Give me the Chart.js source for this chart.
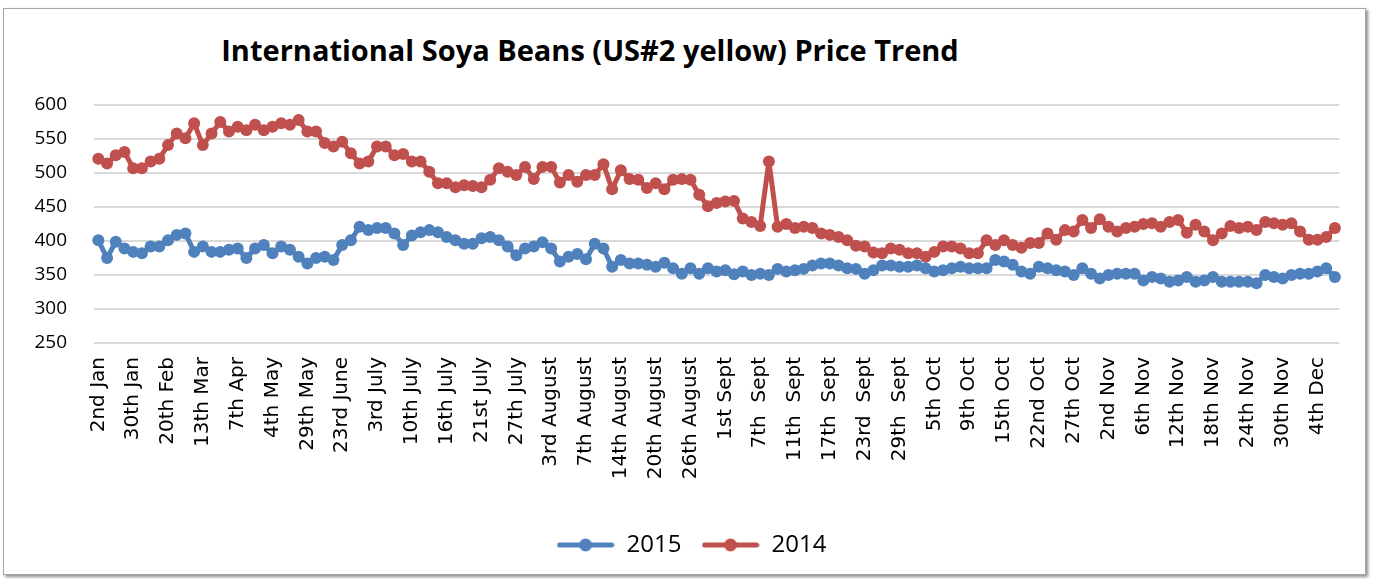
<!DOCTYPE html>
<html>
<head>
<meta charset="utf-8">
<title>International Soya Beans Price Trend</title>
<script src="https://cdn.jsdelivr.net/npm/chart.js@4.4.1/dist/chart.umd.min.js"></script>
<style>
  html, body { margin: 0; padding: 0; background: #fff; }
  body { width: 1373px; height: 579px; position: relative; overflow: hidden; }
  #frame {
    position: absolute; left: 3px; top: 8px; width: 1361px; height: 565px;
    border: 1px solid #a6a6a6; box-shadow: 2px 2px 3px rgba(0, 0, 0, 0.45); background: #fff;
  }
  #title {
    position: absolute; left: 0; top: 31px; width: 1180px; text-align: center;
    font: bold 29px "Open Sans", sans-serif; line-height: 38px; color: #000;
  }
  #chart { position: absolute; left: 0; top: 0; }
</style>
</head>
<body>
<div id="frame"></div>
<div id="title">International Soya Beans (US#2 yellow) Price Trend</div>
<canvas id="chart" width="1373" height="579"></canvas>
<script>
// tick labels shown on the category axis (every 4th week)
const tickLabels = [
  "2nd Jan", "30th Jan", "20th Feb", "13th Mar", "7th Apr", "4th May", "29th May",
  "23rd June", "3rd July", "10th July", "16th July", "21st July", "27th July",
  "3rd August", "7th August", "14th August", "20th August", "26th August",
  "1st Sept", "7th  Sept", "11th  Sept", "17th  Sept", "23rd  Sept", "29th  Sept",
  "5th Oct", "9th Oct", "15th Oct", "22nd Oct", "27th Oct",
  "2nd Nov", "6th Nov", "12th Nov", "18th Nov", "24th Nov", "30th Nov", "4th Dec"
];

// 2015 prices (USD/t)
const prices2015 = [
  401, 375, 399, 389, 384, 382, 392, 392, 401, 409, 411, 384, 392, 384, 384, 387,
  389, 375, 389, 394, 382, 392, 387, 377, 367, 375, 377, 372, 394, 401, 421, 416,
  419, 419, 411, 394, 408, 413, 416, 413, 406, 401, 396, 396, 404, 406, 401, 392,
  379, 389, 392, 398, 389, 370, 377, 381, 373, 396, 389, 362, 372, 367, 367, 365,
  362, 368, 360, 352, 360, 352, 360, 355, 357, 351, 355, 350, 352, 350, 359, 355,
  357, 359, 364, 367, 367, 364, 360, 359, 352, 357, 364, 364, 362, 362, 364, 360,
  355, 357, 360, 362, 360, 360, 360, 372, 370, 365, 355, 352, 362, 360, 357, 355,
  350, 360, 352, 345, 350, 352, 352, 352, 342, 347, 345, 340, 342, 347, 340, 342,
  347, 340, 340, 340, 340, 338, 350, 347, 345, 350, 352, 352, 355, 360, 347
];

// 2014 prices (USD/t)
const prices2014 = [
  521, 514, 526, 531, 507, 507, 517, 521, 541, 558, 551, 573, 541, 558, 575, 561,
  568, 563, 571, 563, 568, 573, 571, 578, 561, 561, 544, 539, 546, 529, 514, 517,
  539, 539, 526, 528, 517, 517, 502, 485, 485, 479, 482, 481, 479, 490, 507, 502,
  497, 509, 491, 509, 509, 486, 497, 487, 497, 497, 513, 476, 504, 491, 490, 478,
  485, 476, 490, 491, 490, 468, 451, 456, 458, 459, 433, 428, 422, 517, 421, 425,
  419, 421, 419, 411, 409, 406, 401, 393, 392, 383, 382, 389, 387, 382, 382, 377,
  384, 392, 392, 389, 382, 382, 401, 394, 401, 394, 390, 397, 397, 411, 402, 416,
  414, 431, 419, 432, 421, 414, 419, 421, 425, 426, 421, 428, 431, 412, 424, 414,
  401, 411, 422, 419, 421, 416, 428, 426, 424, 426, 414, 402, 402, 406, 419
];

const blue = "#4F81BD";
const red = "#C0504D";

// one category per week, only every 4th one carries a label
const categories = prices2015.map((v, i) => (i % 4 === 0 ? tickLabels[i / 4] : ""));

// legend marker: short line with a dot in the middle
function legendMark(color) {
  const c = document.createElement("canvas");
  c.width = 58;
  c.height = 14;
  const g = c.getContext("2d");
  g.strokeStyle = color;
  g.lineWidth = 5;
  g.lineCap = "round";
  g.beginPath();
  g.moveTo(3, 7);
  g.lineTo(55, 7);
  g.stroke();
  g.fillStyle = color;
  g.beginPath();
  g.arc(29, 7, 6.5, 0, Math.PI * 2);
  g.fill();
  return c;
}
const marks = [legendMark(blue), legendMark(red)];

function lineSet(label, data, color) {
  return {
    label: label,
    data: data,
    borderColor: color,
    backgroundColor: color,
    borderWidth: 5,
    borderJoinStyle: "round",
    borderCapStyle: "round",
    pointRadius: 6,
    pointBorderWidth: 0,
    pointBackgroundColor: color,
    tension: 0,
  };
}

// the original legend sits a little right of the canvas centre
const legendShift = {
  id: "legendShift",
  afterLayout(chart) {
    chart.legend.left += 19;
    chart.legend.right += 19;
  },
};

new Chart(document.getElementById("chart").getContext("2d"), {
  type: "line",
  data: {
    labels: categories,
    datasets: [lineSet("2015", prices2015, blue), lineSet("2014", prices2014, red)],
  },
  plugins: [legendShift],
  options: {
    responsive: false,
    animation: false,
    layout: { padding: { top: 105, right: 28, bottom: 12, left: 0 } },
    plugins: {
      tooltip: { enabled: false },
      legend: {
        position: "bottom",
        labels: {
          usePointStyle: true,
          pointStyleWidth: 58,
          boxHeight: 14,
          padding: 20,
          color: "#000",
          font: { family: "Open Sans", size: 24 },
          generateLabels(chart) {
            const items = Chart.defaults.plugins.legend.labels.generateLabels(chart);
            items.forEach((item, k) => (item.pointStyle = marks[k]));
            return items;
          },
        },
      },
    },
    scales: {
      x: {
        offset: true,
        grid: { display: false, drawTicks: false },
        border: { display: false },
        ticks: {
          autoSkip: false,
          minRotation: 90,
          maxRotation: 90,
          padding: 14,
          color: "#000",
          font: { family: "DejaVu Sans", size: 20 },
        },
        afterFit(scale) {
          scale.height = 170;
        },
      },
      y: {
        min: 250,
        max: 600,
        ticks: { stepSize: 50, padding: 27, color: "#000", font: { family: "Open Sans", size: 19 } },
        grid: { color: "#d9d9d9", lineWidth: 2, drawTicks: false },
        border: { display: false },
        afterFit(scale) {
          scale.width = 94;
        },
      },
    },
  },
});
</script>
</body>
</html>
